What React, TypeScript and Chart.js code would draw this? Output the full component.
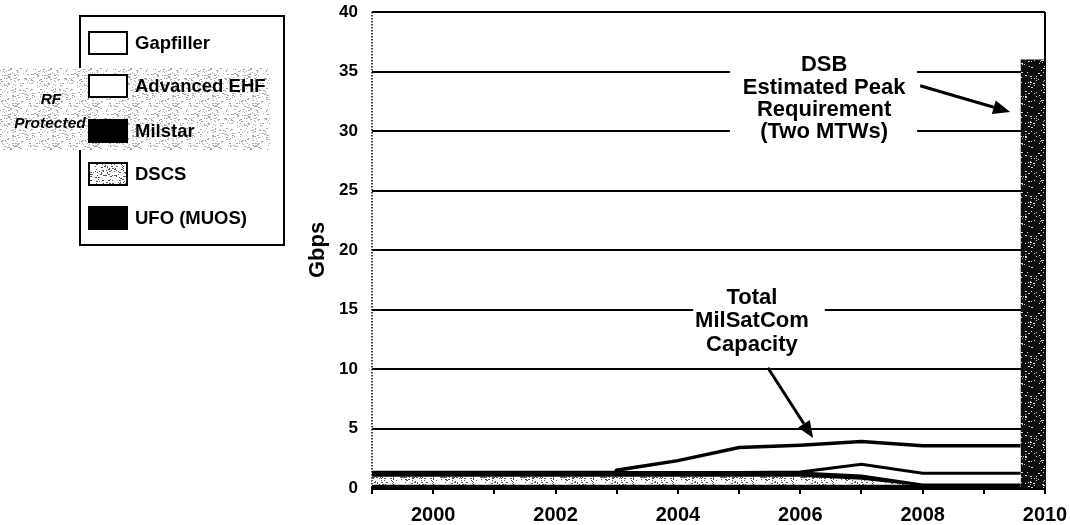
import React, { useEffect, useMemo, useRef } from 'react';
import { Chart, registerables } from 'chart.js';

Chart.register(...registerables);

// ---- data (Gbps per year, stacked bands) ----
const years = [1999, 2000, 2001, 2002, 2002.97, 2003, 2004, 2005, 2006, 2007, 2008, 2009, 2009.6];
const ufoValues = [0.2, 0.2, 0.2, 0.2, 0.2, 0.2, 0.2, 0.2, 0.2, 0.2, 0.2, 0.2, 0.2];
const dscsValues = [0.8, 0.8, 0.8, 0.8, 0.8, 0.8, 0.8, 0.8, 0.8, 0.55, 0, 0, 0];
const milstarValues = [0.3, 0.3, 0.3, 0.3, 0.3, 0.3, 0.3, 0.3, 0.3, 0.3, 0.1, 0.1, 0.1];
const aehfValues = [0, 0, 0, 0, 0, 0, 0, 0, 0.05, 0.95, 0.95, 0.95, 0.95];
const gapfillerValues = [0, 0, 0, 0, 0, 0.2, 1.0, 2.1, 2.25, 1.9, 2.3, 2.3, 2.3];

const requirementYears = [2009.6, 2010];
const requirementValues = [36, 36];

const yTicks = [0, 5, 10, 15, 20, 25, 30, 35, 40];
const xLabelYears = [2000, 2002, 2004, 2006, 2008, 2010];

const legendLabels = ['Gapfiller', 'Advanced EHF', 'Milstar', 'DSCS', 'UFO (MUOS)'];

// annotations (data coordinates)
const dsbLines = ['DSB', 'Estimated Peak', 'Requirement', '(Two MTWs)'];
const dsbCenter = [2006.39, 32.7];
const dsbBox = [2004.85, 2007.91, 37.4, 28.2];
const dsbArrow = [2007.96, 33.8, 2009.43, 31.6];

const totalLines = ['Total', 'MilSatCom', 'Capacity'];
const totalCenter = [2005.21, 14.0];
const totalBox = [2004.25, 2006.4, 17.3, 10.8];
const totalArrow = [2005.47, 10.1, 2006.21, 4.2];

const FONT = '"Liberation Sans", Arial, Helvetica, sans-serif';

function makeStipple(bg: string, fg: string, density: number, seed: number, size = 40) {
  const c = document.createElement('canvas');
  c.width = size;
  c.height = size;
  const g = c.getContext('2d')!;
  g.fillStyle = bg;
  g.fillRect(0, 0, size, size);
  let s = seed >>> 0;
  const next = () => {
    s = (Math.imul(s, 1103515245) + 12345) >>> 0;
    return (s >>> 8) / 16777216;
  };
  g.fillStyle = fg;
  const n = Math.round(size * size * density);
  for (let i = 0; i < n; i++) {
    const x = Math.floor(next() * size);
    const y = Math.floor(next() * size);
    const w = next() < 0.35 ? 2 : 1;
    g.fillRect(x, y, w, 1);
  }
  return c;
}

function drawArrow(ctx: CanvasRenderingContext2D, x1: number, y1: number, x2: number, y2: number) {
  const ang = Math.atan2(y2 - y1, x2 - x1);
  const head = 17;
  const half = 7;
  const bx = x2 - head * Math.cos(ang);
  const by = y2 - head * Math.sin(ang);
  ctx.save();
  ctx.strokeStyle = '#000';
  ctx.fillStyle = '#000';
  ctx.lineWidth = 3;
  ctx.beginPath();
  ctx.moveTo(x1, y1);
  ctx.lineTo(bx, by);
  ctx.stroke();
  ctx.beginPath();
  ctx.moveTo(x2, y2);
  ctx.lineTo(bx + half * Math.sin(ang), by - half * Math.cos(ang));
  ctx.lineTo(bx - half * Math.sin(ang), by + half * Math.cos(ang));
  ctx.closePath();
  ctx.fill();
  ctx.restore();
}

const axisPlugin = {
  id: 'dottedAxis',
  beforeDatasetsDraw(chart: any) {
    const { ctx, chartArea } = chart;
    ctx.save();
    ctx.strokeStyle = '#000';
    ctx.lineWidth = 1.5;
    ctx.setLineDash([1.5, 1.5]);
    ctx.beginPath();
    ctx.moveTo(chartArea.left, chartArea.top);
    ctx.lineTo(chartArea.left, chartArea.bottom);
    ctx.stroke();
    ctx.restore();
  },
};

const notesPlugin = {
  id: 'notes',
  afterDatasetsDraw(chart: any) {
    const { ctx } = chart;
    const xs = chart.scales.x;
    const ys = chart.scales.y;
    const groups = [
      { lines: dsbLines, center: dsbCenter, box: dsbBox, arrow: dsbArrow, lh: 22.3 },
      { lines: totalLines, center: totalCenter, box: totalBox, arrow: totalArrow, lh: 23.5 },
    ];
    ctx.save();
    for (const gp of groups) {
      const bx1 = xs.getPixelForValue(gp.box[0]);
      const bx2 = xs.getPixelForValue(gp.box[1]);
      const by1 = ys.getPixelForValue(gp.box[2]);
      const by2 = ys.getPixelForValue(gp.box[3]);
      ctx.fillStyle = '#fff';
      ctx.fillRect(bx1, by1, bx2 - bx1, by2 - by1);
      const cx = xs.getPixelForValue(gp.center[0]);
      const cy = ys.getPixelForValue(gp.center[1]);
      ctx.fillStyle = '#000';
      ctx.font = `bold 22px ${FONT}`;
      ctx.textAlign = 'center';
      ctx.textBaseline = 'middle';
      const n = gp.lines.length;
      gp.lines.forEach((t, i) => {
        ctx.fillText(t, cx, cy + (i - (n - 1) / 2) * gp.lh);
      });
      drawArrow(
        ctx,
        xs.getPixelForValue(gp.arrow[0]),
        ys.getPixelForValue(gp.arrow[1]),
        xs.getPixelForValue(gp.arrow[2]),
        ys.getPixelForValue(gp.arrow[3])
      );
    }
    ctx.restore();
  },
};

export default function App() {
  const canvasRef = useRef<HTMLCanvasElement | null>(null);

  const patterns = useMemo(() => {
    return {
      dscs: makeStipple('#ffffff', '#555555', 0.16, 7),
      req: makeStipple('#0c0c0c', '#d8d8d8', 0.07, 13),
      rf: makeStipple('#ffffff', '#a8a8a8', 0.12, 29),
    };
  }, []);

  const urls = useMemo(
    () => ({
      dscs: patterns.dscs.toDataURL(),
      rf: patterns.rf.toDataURL(),
    }),
    [patterns]
  );

  useEffect(() => {
    const canvas = canvasRef.current;
    if (!canvas) return;
    const ctx = canvas.getContext('2d')!;
    const dscsPat = ctx.createPattern(patterns.dscs, 'repeat')!;
    const reqPat = ctx.createPattern(patterns.req, 'repeat')!;

    const pts = (vals: number[]) => years.map((x, i) => ({ x, y: vals[i] }));

    const chart = new Chart(canvas, {
      type: 'line',
      data: {
        datasets: [
          {
            label: legendLabels[4],
            data: pts(ufoValues),
            backgroundColor: '#000',
            borderColor: '#000',
            borderWidth: 1.5,
            fill: 'origin',
          },
          {
            label: legendLabels[3],
            data: pts(dscsValues),
            backgroundColor: dscsPat as any,
            borderColor: '#000',
            borderWidth: 1.5,
            fill: '-1',
          },
          {
            label: legendLabels[2],
            data: pts(milstarValues),
            backgroundColor: '#000',
            borderColor: '#000',
            borderWidth: 2,
            fill: '-1',
          },
          {
            label: legendLabels[1],
            data: pts(aehfValues),
            backgroundColor: '#fff',
            borderColor: '#000',
            borderWidth: 3,
            fill: '-1',
          },
          {
            label: legendLabels[0],
            data: pts(gapfillerValues),
            backgroundColor: '#fff',
            borderColor: '#000',
            borderWidth: 3.5,
            fill: '-1',
          },
          {
            label: 'DSB Estimated Peak Requirement',
            data: requirementYears.map((x, i) => ({ x, y: requirementValues[i] })),
            backgroundColor: reqPat as any,
            borderColor: 'rgba(0,0,0,0)',
            borderWidth: 0,
            fill: 'origin',
            stack: 'req',
          } as any,
        ],
      },
      options: {
        responsive: false,
        animation: false,
        layout: { padding: { left: 290, right: 25, top: 12, bottom: 0 } },
        elements: { point: { radius: 0 }, line: { tension: 0 } },
        plugins: { legend: { display: false }, tooltip: { enabled: false } },
        scales: {
          x: {
            type: 'linear',
            min: 1999,
            max: 2010,
            afterFit: (s: any) => {
              s.height = 37;
            },
            afterBuildTicks: (s: any) => {
              const t: any[] = [];
              for (let v = 1999; v <= 2010; v++) t.push({ value: v });
              s.ticks = t;
            },
            ticks: {
              autoSkip: false,
              maxRotation: 0,
              color: '#000',
              padding: 0,
              font: { family: FONT, size: 20, weight: 'bold', lineHeight: 2.1 },
              callback: (v: any) => (xLabelYears.includes(Number(v)) ? String(v) : ''),
            },
            grid: {
              color: (c: any) => (c.tick && c.tick.value === 2010 ? '#000' : 'rgba(0,0,0,0)'),
              lineWidth: 2,
              tickColor: '#000',
              tickLength: 6,
              tickWidth: 2,
            },
            border: { color: '#000', width: 3 },
          },
          y: {
            stacked: true,
            min: 0,
            max: 40,
            afterFit: (s: any) => {
              s.width = 82;
            },
            afterBuildTicks: (s: any) => {
              s.ticks = yTicks.map((v) => ({ value: v }));
            },
            ticks: {
              color: '#000',
              padding: 0,
              font: { family: FONT, size: 17, weight: 'bold' },
            },
            grid: {
              color: '#000',
              lineWidth: 2,
              drawTicks: true,
              tickLength: 14,
              tickColor: 'rgba(0,0,0,0)',
            },
            border: { display: false },
            title: {
              display: true,
              text: 'Gbps',
              color: '#000',
              font: { family: FONT, size: 22, weight: 'bold' },
              padding: { top: 15, bottom: 0 },
            },
          },
        },
      },
      plugins: [axisPlugin, notesPlugin],
    } as any);
    return () => chart.destroy();
  }, [patterns]);

  const rowYs = [43, 86, 131, 174, 218];
  const swatchStyles: React.CSSProperties[] = [
    { background: '#fff', border: '2px solid #000' },
    { background: '#fff', border: '2px solid #000' },
    { background: '#000', border: '2px solid #000' },
    { backgroundImage: `url(${urls.dscs})`, border: '2px solid #000' },
    { background: '#000', border: '2px solid #000' },
  ];

  return (
    <div
      style={{
        position: 'fixed',
        left: 0,
        top: 0,
        width: 1070,
        height: 525,
        background: '#fff',
        overflow: 'hidden',
        fontFamily: FONT,
      }}
    >
      <canvas
        ref={canvasRef}
        width={1070}
        height={525}
        style={{ position: 'absolute', left: 0, top: 0, width: 1070, height: 525 }}
      />
      {/* legend frame */}
      <div
        style={{
          position: 'absolute',
          left: 79,
          top: 15,
          width: 206,
          height: 231,
          border: '2px solid #000',
          boxSizing: 'border-box',
          background: '#fff',
        }}
      />
      {/* RF protected band */}
      <div
        style={{
          position: 'absolute',
          left: 0,
          top: 68,
          width: 270,
          height: 82,
          backgroundImage: `url(${urls.rf})`,
        }}
      />
      <div
        style={{
          position: 'absolute',
          left: 0,
          width: 100,
          top: 87,
          textAlign: 'center',
          fontStyle: 'italic',
          fontWeight: 'bold',
          fontSize: 15.5,
          lineHeight: '24px',
          color: '#000',
        }}
      >
        <div style={{ paddingLeft: 2 }}>RF</div>
        <div>Protected</div>
      </div>
      {legendLabels.map((lab, i) => (
        <React.Fragment key={lab}>
          <div
            style={{
              position: 'absolute',
              left: 88,
              top: rowYs[i] - 12,
              width: 40,
              height: 24,
              boxSizing: 'border-box',
              ...swatchStyles[i],
            }}
          />
          <div
            style={{
              position: 'absolute',
              left: 135,
              top: rowYs[i] - 12,
              height: 24,
              lineHeight: '24px',
              fontSize: 18.5,
              fontWeight: 'bold',
              color: '#000',
              whiteSpace: 'nowrap',
            }}
          >
            {lab}
          </div>
        </React.Fragment>
      ))}
    </div>
  );
}
